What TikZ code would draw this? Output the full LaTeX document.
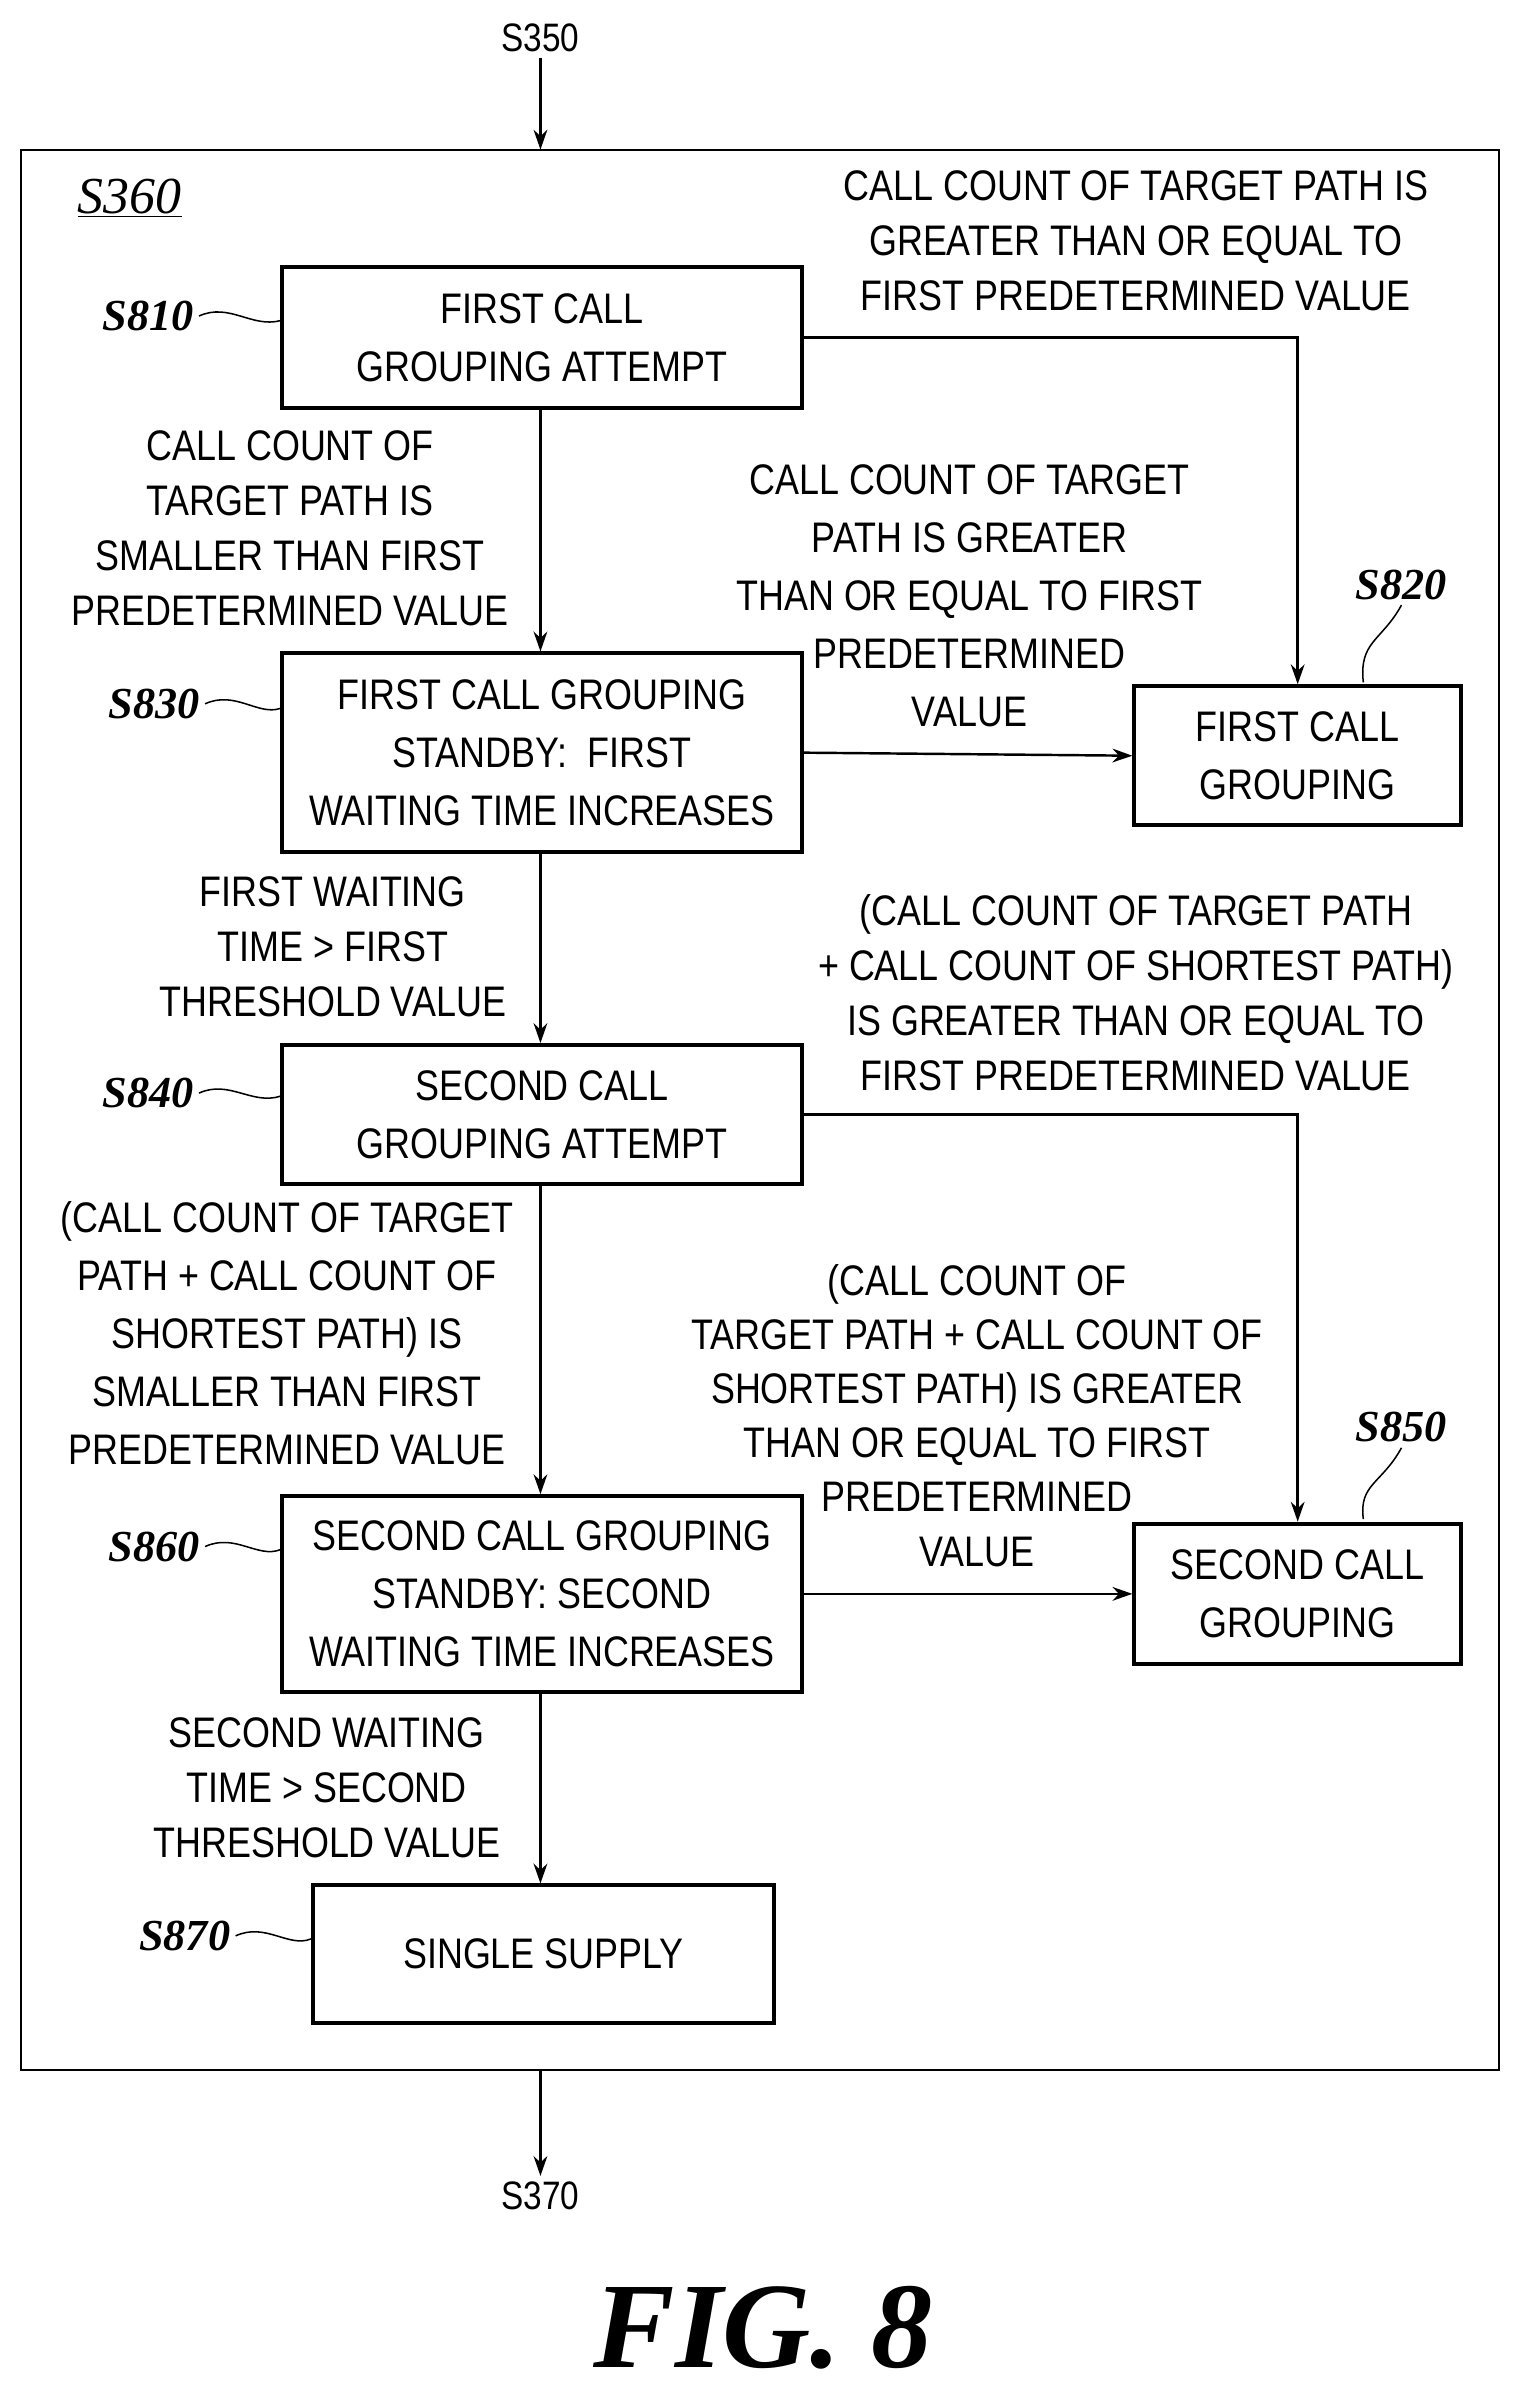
\documentclass[tikz,border=0pt]{standalone}
\usepackage{fontspec}
\newfontfamily\lab{Liberation Sans}[FakeStretch=0.84]
\newfontfamily\ser{Liberation Serif}
\usetikzlibrary{arrows.meta}
\begin{document}
\begin{tikzpicture}[x=1pt,y=-1pt,
 box/.style={draw,line width=2.6pt,align=center,inner sep=0pt,font=\lab\fontsize{28}{38}\selectfont},
 txt/.style={align=center,font=\lab\fontsize{28}{36}\selectfont},
 stp/.style={font=\ser\bfseries\itshape\fontsize{29}{30}\selectfont},
 arr/.style={line width=1.6pt,-{Stealth[length=13pt,width=9pt]}},
 sq/.style={line width=1pt}]
\useasboundingbox (0,0) rectangle (1000,1574);
\draw[line width=1.4pt] (14,98) rectangle (982,1356);
\node[txt,font=\lab\fontsize{26}{30}\selectfont] (s350) at (354,25) {S350};
\coordinate (in) at (354,98);
\draw[arr] (s350.south) -- (in);
\node[font=\ser\itshape\fontsize{34}{36}\selectfont] (s360) at (85,130) {\underline{S360}};
\node[box,minimum width=340pt,minimum height=92pt] (b810) at (355,221) {FIRST CALL\\GROUPING ATTEMPT};
\node[box,minimum width=340pt,minimum height=130pt] (b830) at (355,493) {FIRST CALL GROUPING\\STANDBY:\ \ FIRST\\WAITING TIME INCREASES};
\node[box,minimum width=214pt,minimum height=91pt] (b820) at (850,495) {FIRST CALL\\GROUPING};
\node[box,minimum width=340pt,minimum height=91pt] (b840) at (355,730) {SECOND CALL\\GROUPING ATTEMPT};
\node[box,minimum width=340pt,minimum height=128pt] (b860) at (355,1044) {SECOND CALL GROUPING\\STANDBY: SECOND\\WAITING TIME INCREASES};
\node[box,minimum width=214pt,minimum height=92pt] (b850) at (850,1044) {SECOND CALL\\GROUPING};
\node[box,minimum width=302pt,minimum height=90pt] (b870) at (356,1280) {SINGLE SUPPLY};
\coordinate (out1) at (354,1356);
\node[txt,font=\lab\fontsize{26}{30}\selectfont] (s370) at (354,1438) {S370};
\draw[arr] (out1) -- (s370.north);
\draw[arr] (b810.south -| 354,0) -- (b830.north -| 354,0);
\draw[arr] (b830.south -| 354,0) -- (b840.north -| 354,0);
\draw[arr] (b840.south -| 354,0) -- (b860.north -| 354,0);
\draw[arr] (b860.south -| 354,0) -- (b870.north -| 354,0);
\draw[arr] (b810.east) -- (850,221) -- (b820.north);
\draw[arr] (b830.east) -- (b820.west);
\draw[arr] (b840.east) -- (850,730) -- (b850.north);
\draw[arr] (b860.east) -- (b850.west);
\node[txt] (t1) at (744,158) {CALL COUNT OF TARGET PATH IS\\GREATER THAN OR EQUAL TO\\FIRST PREDETERMINED VALUE};
\node[txt] (t2) at (190,346) {CALL COUNT OF\\TARGET PATH IS\\SMALLER THAN FIRST\\PREDETERMINED VALUE};
\node[txt,font=\lab\fontsize{28}{38}\selectfont] (t3) at (635,390) {CALL COUNT OF TARGET\\PATH IS GREATER\\THAN OR EQUAL TO FIRST\\PREDETERMINED\\VALUE};
\node[txt] (t4) at (218,620) {FIRST WAITING\\TIME > FIRST\\THRESHOLD VALUE};
\node[txt] (t5) at (744,650) {(CALL COUNT OF TARGET PATH\\+ CALL COUNT OF SHORTEST PATH)\\IS GREATER THAN OR EQUAL TO\\FIRST PREDETERMINED VALUE};
\node[txt,font=\lab\fontsize{28}{38}\selectfont] (t6) at (188,873) {(CALL COUNT OF TARGET\\PATH + CALL COUNT OF\\SHORTEST PATH) IS\\SMALLER THAN FIRST\\PREDETERMINED VALUE};
\node[txt,font=\lab\fontsize{28}{35.5}\selectfont] (t7) at (640,927) {(CALL COUNT OF\\TARGET PATH + CALL COUNT OF\\SHORTEST PATH) IS GREATER\\THAN OR EQUAL TO FIRST\\PREDETERMINED\\VALUE};
\node[txt] (t8) at (214,1171) {SECOND WAITING\\TIME > SECOND\\THRESHOLD VALUE};
\node[stp] (l810) at (97,207) {S810};
\node[stp] (l830) at (101,461) {S830};
\node[stp] (l840) at (97,716) {S840};
\node[stp] (l860) at (101,1013) {S860};
\node[stp] (l870) at (121,1268) {S870};
\node[stp] (l820) at (918,383) {S820};
\node[stp] (l850) at (918,935) {S850};
\draw[sq] (l810.east) .. controls (150,198) and (165,215) .. (b810.west |- 0,210);
\draw[sq] (l830.east) .. controls (154,452) and (169,469) .. (b830.west |- 0,464);
\draw[sq] (l840.east) .. controls (150,707) and (165,724) .. (b840.west |- 0,718);
\draw[sq] (l860.east) .. controls (154,1004) and (169,1021) .. (b860.west |- 0,1015);
\draw[sq] (l870.east) .. controls (174,1259) and (189,1276) .. (b870.west |- 0,1270);
\draw[sq] (l820.south) .. controls (905,420) and (890,420) .. (893,447);
\draw[sq] (l850.south) .. controls (905,972) and (890,972) .. (893,995);
\node[font=\ser\bfseries\itshape\fontsize{80}{80}\selectfont] (fig) at (500,1525) {FIG. 8};
\end{tikzpicture}
\end{document}
